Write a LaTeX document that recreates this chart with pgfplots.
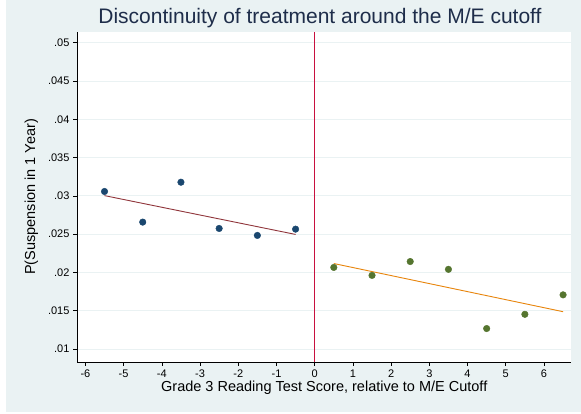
\documentclass[border=0pt]{standalone}
\usepackage{pgfplots}
\pgfplotsset{compat=1.18}
\usepackage{fontspec}
\setmainfont{Liberation Sans}

\definecolor{bgcol}{HTML}{EAF2F3}
\definecolor{gridcol}{HTML}{EAF2F3}
\definecolor{navy}{HTML}{1A476F}
\definecolor{forest}{HTML}{55752F}
\definecolor{maroon}{HTML}{90353B}
\definecolor{dkorange}{HTML}{E8850C}
\definecolor{cutoff}{HTML}{C8103F}
\definecolor{titlecol}{HTML}{1E2D4A}

\begin{document}
\begin{tikzpicture}[x=1pt,y=1pt]
% page and graph region
\fill[white] (0,0) rectangle (581,414);
\fill[bgcol] (6,2) rectangle (581,414);
\node[font=\fontsize{21}{24}\selectfont, text=titlecol] at (320,396) {Discontinuity of treatment around the M/E cutoff};
\begin{axis}[
  at={(77pt,52pt)}, anchor=south west,
  scale only axis, width=494.5pt, height=330pt,
  xmin=-6.22, xmax=6.72, ymin=0.0083, ymax=0.0514,
  scaled y ticks=false,
  axis background/.style={fill=white},
  axis lines*=left,
  axis line style={black, line width=0.8pt},
  tick align=outside,
  major tick length=4pt,
  tick style={black, line width=0.6pt},
  xtick={-6,-5,-4,-3,-2,-1,0,1,2,3,4,5,6},
  xticklabels={-6,-5,-4,-3,-2,-1,0,1,2,3,4,5,6},
  ytick={0.01,0.015,0.02,0.025,0.03,0.035,0.04,0.045,0.05},
  yticklabels={.01,.015,.02,.025,.03,.035,.04,.045,.05},
  ticklabel style={font=\fontsize{11}{13}\selectfont},
  ymajorgrids, grid style={gridcol, line width=0.8pt},
  xlabel={Grade 3 Reading Test Score, relative to M/E Cutoff},
  ylabel={P(Suspension in 1 Year)},
  label style={font=\fontsize{14.5}{16}\selectfont},
  xlabel style={yshift=3pt},
  ylabel style={yshift=3pt},
  clip=false,
]
% cutoff
\addplot[cutoff, line width=0.9pt] coordinates {(0,0.0083) (0,0.0514)};
% binned means below the cutoff
\addplot[only marks, mark=*, mark size=3.3pt, mark options={navy, fill=navy}] coordinates {
  (-5.5,0.03057) (-4.5,0.02657) (-3.5,0.03178) (-2.5,0.02574) (-1.5,0.02483) (-0.5,0.02565)};
% binned means above the cutoff
\addplot[only marks, mark=*, mark size=3.3pt, mark options={forest, fill=forest}] coordinates {
  (0.5,0.02065) (1.5,0.01961) (2.5,0.02142) (3.5,0.02040) (4.5,0.01267) (5.5,0.01453) (6.5,0.01707)};
% linear fits
\addplot[maroon, line width=0.9pt] coordinates {(-5.5,0.03003) (-0.5,0.02496)};
\addplot[dkorange, line width=0.9pt] coordinates {(0.5,0.02116) (6.5,0.01487)};
\end{axis}
\end{tikzpicture}
\end{document}
